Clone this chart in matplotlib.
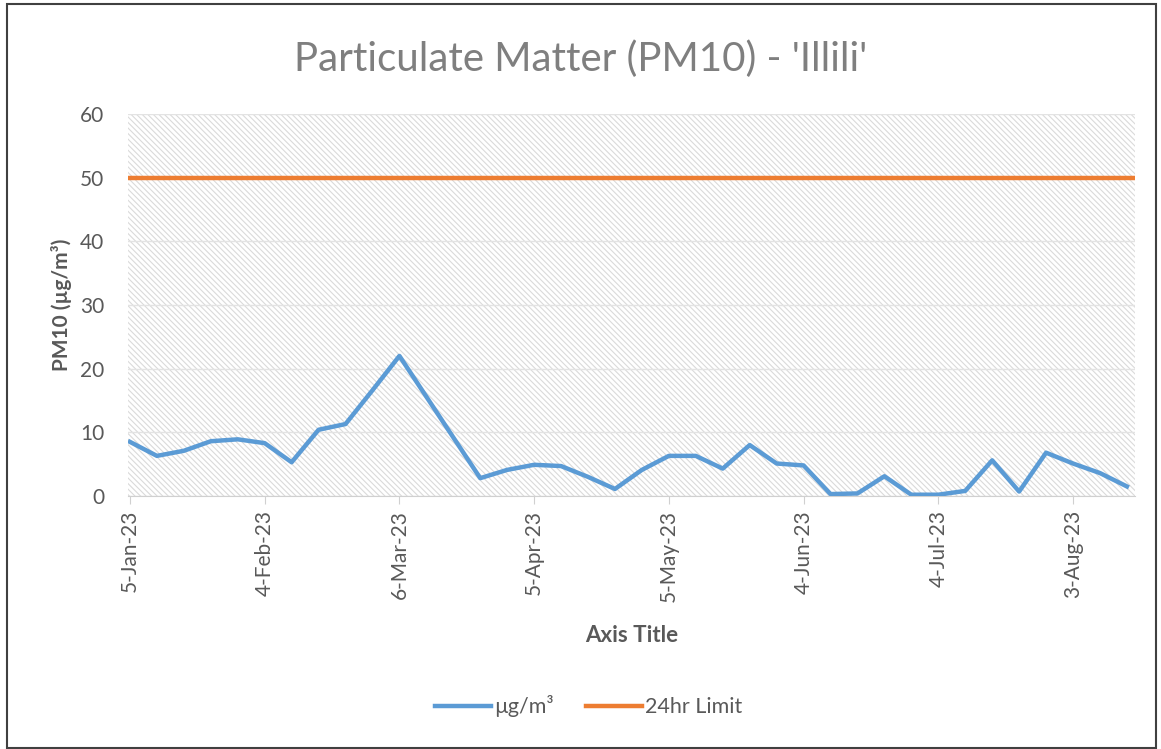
import numpy as np
import pandas as pd
import matplotlib
matplotlib.use("Agg")
import matplotlib.pyplot as plt
import matplotlib.dates as mdates
from matplotlib.patches import Rectangle

plt.rcParams['font.family'] = ['Lato', 'DejaVu Sans']
plt.rcParams['hatch.linewidth'] = 0.8
plt.rcParams['hatch.color'] = '#dadada'

# sampling every 6 days from 5 Jan 2023
dates = pd.date_range("2023-01-05", periods=38, freq="6D")
pm10 = [8.5, 6.3, 7.1, 8.6, 8.9, 8.3, 5.3, 10.4, 11.3, 16.6,
        22.0, 15.6, 9.2, 2.8, 4.1, 4.9, 4.7, 3.0, 1.1, 4.1,
        6.3, 6.3, 4.3, 8.0, 5.1, 4.8, 0.3, 0.4, 3.1, 0.2,
        0.2, 0.8, 5.6, 0.7, 6.8, 5.1, 3.6, 1.5]
limit = 50
series_names = ["µg/m³", "24hr Limit"]
tick_dates = pd.date_range("2023-01-05", periods=8, freq="30D")

blue = "#5B9BD5"
orange = "#ED7D31"
grey = "#595959"

fig = plt.figure(figsize=(11.61, 7.49), dpi=100)
ax = fig.add_axes([0.110, 0.3378, 0.8676, 0.51])

# hatched plot area
ax.add_patch(Rectangle((0, 0), 1, 1, transform=ax.transAxes, facecolor="white",
                       hatch="\\\\\\\\\\\\", edgecolor="#dadada", lw=0, zorder=0))

ax.plot(dates, pm10, color=blue, lw=3.2, solid_joinstyle="round", label=series_names[0], zorder=3)
ax.axhline(limit, color=orange, lw=3.2, label=series_names[1], zorder=3)

ax.set_ylim(0, 60)
ax.set_yticks(range(0, 61, 10))
ax.set_xlim(mdates.date2num(dates[0]) - 0.5, mdates.date2num(dates[-1]) + 1.8)
ax.set_xticks(tick_dates)
ax.set_xticklabels([f"{d.day}-{d.strftime('%b-%y')}" for d in tick_dates], rotation=90)

ax.grid(axis="y", color="#e3e3e3", lw=1, zorder=1)
ax.set_axisbelow(True)
for s in ["top", "right", "left"]:
    ax.spines[s].set_visible(False)
ax.spines["bottom"].set_color("#d0d0d0")
ax.spines["bottom"].set_zorder(2)
ax.tick_params(axis="x", colors="#d0d0d0", labelcolor=grey, length=6, labelsize=15, pad=4)
ax.tick_params(axis="y", length=0, labelcolor=grey, labelsize=15, pad=17)

ax.set_xlabel("Axis Title", fontsize=16, fontweight="bold", color=grey, va="center")
ax.xaxis.set_label_coords(0.5, -0.366)
ax.set_ylabel("PM10 (µg/m³)", fontsize=15, fontweight="bold", color=grey, va="center")
ax.yaxis.set_label_coords(-0.066, 0.5)
fig.text(0.5, 0.921, "Particulate Matter (PM10) - 'Illili'", ha="center", va="center",
         fontsize=29, color="#7f7f7f")

fig.legend(loc="center", bbox_to_anchor=(0.507, 0.057), ncol=2, frameon=False,
           fontsize=15.5, handlelength=2.6, handletextpad=0.15, columnspacing=1.5,
           labelcolor=grey)

# chart border
fig.add_artist(Rectangle((0.006, 0.002), 0.99, 0.993, transform=fig.transFigure,
                         fill=False, edgecolor="#404040", lw=1.5))

fig.savefig("out.png", dpi=100)
